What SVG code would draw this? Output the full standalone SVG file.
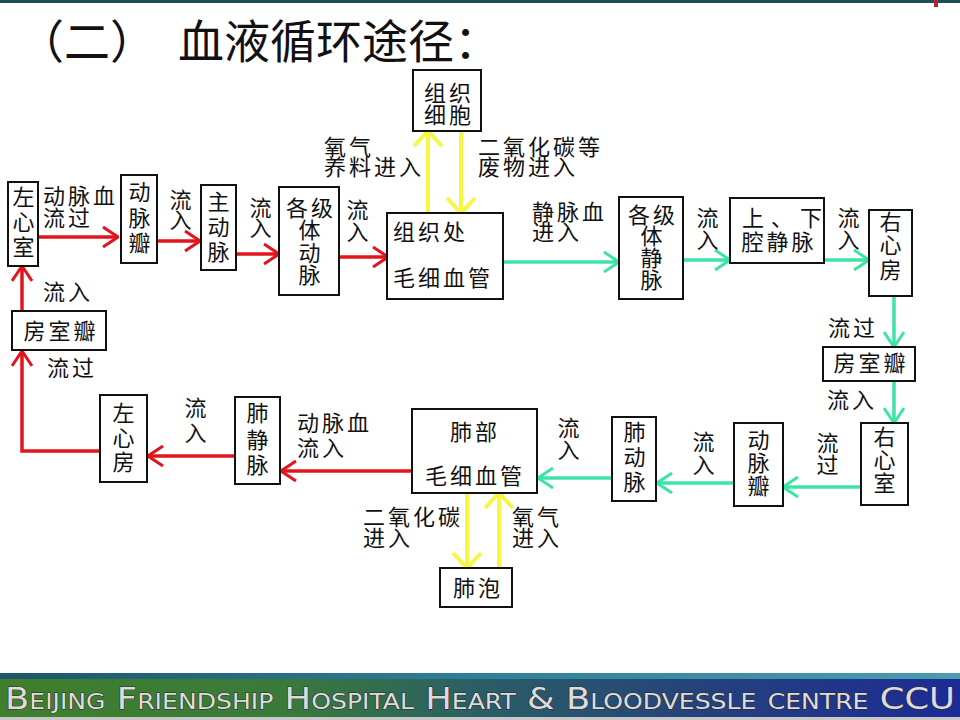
<svg xmlns="http://www.w3.org/2000/svg" width="960" height="720" viewBox="0 0 960 720">
<defs>
<style>
.t{font-family:"Noto Sans CJK SC","Noto Sans CJK JP",sans-serif;font-size:22px;fill:#111;letter-spacing:3px}
.m{text-anchor:middle}
.box{fill:#fff;stroke:#111;stroke-width:2}
.r{fill:none;stroke:#e2141c;stroke-width:3.5;marker-end:url(#mr)}
.g{fill:none;stroke:#3ee3a6;stroke-width:3.5;marker-end:url(#mg)}
.y{fill:none;stroke:#f6f645;stroke-width:4;marker-end:url(#my)}
.foot{font-family:"DejaVu Sans","Liberation Sans",sans-serif;font-size:31px;font-variant:small-caps;fill:#dcdcdc;stroke:#2a2a2a;stroke-width:1;paint-order:stroke}
</style>
<marker id="mr" viewBox="0 0 18 22" refX="17" refY="11" markerWidth="18" markerHeight="22" orient="auto" markerUnits="userSpaceOnUse"><path d="M2,1 L17,11 L2,21" fill="none" stroke="#e2141c" stroke-width="3"/></marker>
<marker id="mg" viewBox="0 0 18 22" refX="17" refY="11" markerWidth="18" markerHeight="22" orient="auto" markerUnits="userSpaceOnUse"><path d="M2,1 L17,11 L2,21" fill="none" stroke="#3ee3a6" stroke-width="3"/></marker>
<marker id="my" viewBox="0 0 18 30" refX="17" refY="15" markerWidth="18" markerHeight="30" orient="auto" markerUnits="userSpaceOnUse"><path d="M2,1 L17,15 L2,29" fill="none" stroke="#f6f645" stroke-width="4"/></marker>
<linearGradient id="fg" x1="0" y1="0" x2="1" y2="0">
<stop offset="0" stop-color="#3f7f2c"/>
<stop offset="0.3" stop-color="#3a7a3a"/>
<stop offset="0.5" stop-color="#2a5e66"/>
<stop offset="0.75" stop-color="#24407e"/>
<stop offset="1" stop-color="#1d2a96"/>
</linearGradient>
<linearGradient id="ts" x1="0" y1="0" x2="1" y2="0">
<stop offset="0" stop-color="#1d5668"/>
<stop offset="0.5" stop-color="#2f7f9a"/>
<stop offset="1" stop-color="#4a9cb0"/>
</linearGradient>
</defs>
<rect width="960" height="720" fill="#fff"/>
<rect x="0" y="0" width="960" height="3" fill="#1d4f5a"/>
<rect x="934" y="0" width="4" height="7" fill="#c0202a"/>

<g id="title">
<text x="18" y="58" style="font-family:'Noto Sans CJK SC',sans-serif;font-size:46px;fill:#111">（二）</text>
<text x="178" y="58" style="font-family:'Noto Sans CJK SC',sans-serif;font-size:46px;fill:#111">血液循环途径：</text>
</g>

<g id="connectors">
<path class="r" d="M38,237 H118"/>
<path class="r" d="M157,241 H200"/>
<path class="r" d="M236,254 H279"/>
<path class="r" d="M339,257 H388"/>
<path class="r" d="M22,311 V266"/>
<path class="r" d="M100,451 H22 V351"/>
<path class="r" d="M235,456 H148"/>
<path class="r" d="M412,471 H281"/>
<path class="g" d="M503,262 H619"/>
<path class="g" d="M683,260 H730"/>
<path class="g" d="M824,260 H869"/>
<path class="g" d="M894,296 V347"/>
<path class="g" d="M894,381 V423"/>
<path class="g" d="M861,487 H783"/>
<path class="g" d="M734,483 H657"/>
<path class="g" d="M612,478 H538"/>
<path class="y" d="M428,213 V131"/>
<path class="y" d="M461,131 V213"/>
<path class="y" d="M467,493 V568"/>
<path class="y" d="M499,568 V493"/>
</g>

<g id="labels" class="t">
<text x="43" y="204">动脉血<tspan x="43" y="226">流过</tspan></text>
<text class="m" x="182" y="208">流<tspan x="182" y="228">入</tspan></text>
<text class="m" x="262" y="216">流<tspan x="262" y="236">入</tspan></text>
<text class="m" x="359" y="218">流<tspan x="359" y="240">入</tspan></text>
<text x="43" y="300">流入</text>
<text x="47" y="376">流过</text>
<text class="m" x="197" y="416">流<tspan x="197" y="441">入</tspan></text>
<text x="297" y="431">动脉血<tspan x="297" y="456">流入</tspan></text>
<text x="324" y="155">氧气<tspan x="324" y="175">养料进入</tspan></text>
<text x="478" y="155">二氧化碳等<tspan x="478" y="175">废物进入</tspan></text>
<text x="532" y="220">静脉血<tspan x="532" y="240">进入</tspan></text>
<text class="m" x="709" y="226">流<tspan x="709" y="248">入</tspan></text>
<text class="m" x="850" y="226">流<tspan x="850" y="248">入</tspan></text>
<text x="828" y="336">流过</text>
<text x="827" y="408">流入</text>
<text class="m" x="829" y="451">流<tspan x="829" y="473">过</tspan></text>
<text class="m" x="705" y="450">流<tspan x="705" y="473">入</tspan></text>
<text class="m" x="570" y="436">流<tspan x="570" y="458">入</tspan></text>
<text x="363" y="525">二氧化碳<tspan x="363" y="546">进入</tspan></text>
<text x="512" y="525">氧气<tspan x="512" y="546">进入</tspan></text>
</g>

<g id="n-zuoxinshi"><rect class="box" x="8" y="182" width="30" height="84"/>
<text class="t m" x="25" y="205">左<tspan x="25" y="230">心</tspan><tspan x="25" y="255">室</tspan></text></g>
<g id="n-dongmaiban1"><rect class="box" x="121" y="175" width="36" height="88"/>
<text class="t m" x="141" y="200">动<tspan x="141" y="226">脉</tspan><tspan x="141" y="251">瓣</tspan></text></g>
<g id="n-zhudongmai"><rect class="box" x="201" y="185" width="35" height="85"/>
<text class="t m" x="220" y="210">主<tspan x="220" y="235">动</tspan><tspan x="220" y="260">脉</tspan></text></g>
<g id="n-gejitidongmai"><rect class="box" x="279" y="187" width="60" height="108"/>
<text class="t m" x="311" y="216">各级<tspan x="311" y="238">体</tspan><tspan x="311" y="261">动</tspan><tspan x="311" y="283">脉</tspan></text></g>
<g id="n-zuzhixibao"><rect class="box" x="413" y="70" width="68" height="61"/>
<text class="t m" x="449" y="101">组织<tspan x="449" y="123">细胞</tspan></text></g>
<g id="n-zuzhichu"><rect class="box" x="387" y="213" width="116" height="86"/>
<text class="t" x="393" y="240">组织处<tspan x="393" y="286">毛细血管</tspan></text></g>
<g id="n-gejitijingmai"><rect class="box" x="619" y="197" width="64" height="102"/>
<text class="t m" x="653" y="223">各级<tspan x="653" y="244">体</tspan><tspan x="653" y="266">静</tspan><tspan x="653" y="288">脉</tspan></text></g>
<g id="n-qiangjingmai"><rect class="box" x="730" y="198" width="94" height="65"/>
<text class="t" x="742" y="226"><tspan style="letter-spacing:7px">上、下</tspan><tspan x="779" y="250" text-anchor="middle">腔静脉</tspan></text></g>
<g id="n-youxinfang"><rect class="box" x="869" y="210" width="43" height="86"/>
<text class="t m" x="892" y="230">右<tspan x="892" y="253">心</tspan><tspan x="892" y="278">房</tspan></text></g>
<g id="n-fangshiban2"><rect class="box" x="823" y="347" width="92" height="34"/>
<text class="t m" x="871" y="371">房室瓣</text></g>
<g id="n-youxinshi"><rect class="box" x="861" y="423" width="47" height="82"/>
<text class="t m" x="886" y="445">右<tspan x="886" y="468">心</tspan><tspan x="886" y="491">室</tspan></text></g>
<g id="n-dongmaiban2"><rect class="box" x="734" y="423" width="49" height="83"/>
<text class="t m" x="760" y="448">动<tspan x="760" y="471">脉</tspan><tspan x="760" y="494">瓣</tspan></text></g>
<g id="n-feidongmai"><rect class="box" x="612" y="417" width="44" height="84"/>
<text class="t m" x="636" y="440">肺<tspan x="636" y="465">动</tspan><tspan x="636" y="490">脉</tspan></text></g>
<g id="n-feibu"><rect class="box" x="412" y="409" width="125" height="84"/>
<text class="t m" x="475" y="440">肺部<tspan x="475" y="484">毛细血管</tspan></text></g>
<g id="n-feipao"><rect class="box" x="440" y="568" width="72" height="39"/>
<text class="t m" x="478" y="596">肺泡</text></g>
<g id="n-feijingmai"><rect class="box" x="235" y="397" width="45" height="87"/>
<text class="t m" x="259" y="421">肺<tspan x="259" y="448">静</tspan><tspan x="259" y="473">脉</tspan></text></g>
<g id="n-zuoxinfang"><rect class="box" x="100" y="395" width="47" height="87"/>
<text class="t m" x="125" y="421">左<tspan x="125" y="446">心</tspan><tspan x="125" y="470">房</tspan></text></g>
<g id="n-fangshiban1"><rect class="box" x="12" y="311" width="94" height="39"/>
<text class="t m" x="61" y="339">房室瓣</text></g>

<g id="footer">
<rect x="0" y="673" width="960" height="6" fill="url(#ts)"/>
<rect x="0" y="679" width="960" height="38" fill="url(#fg)"/>
<rect x="0" y="717" width="960" height="3" fill="#c8c8c8"/>
<text class="foot" x="5" y="709" textLength="950" lengthAdjust="spacingAndGlyphs">Beijing Friendship Hospital Heart &amp; Bloodvessle centre CCU</text>
</g>
</svg>
